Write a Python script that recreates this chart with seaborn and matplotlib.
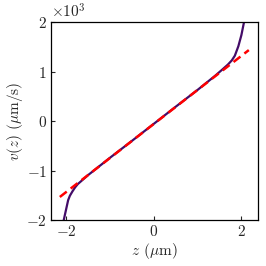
import numpy as np
import pandas as pd
import matplotlib
matplotlib.use("Agg")
import matplotlib.pyplot as plt
import seaborn as sns

# velocity profile v(z)
z_vals = [-2.06, -2.01, -1.96, -1.92, -1.86, -1.80, -1.74, -1.5, -1.0, -0.5, 0.0,
          0.5, 1.0, 1.4, 1.55, 1.69, 1.78, 1.85, 1.93, 2.0, 2.06]
v_vals = [-2000, -1800, -1600, -1510, -1420, -1340, -1275, -1090, -740, -400, -55,
          290, 630, 915, 1030, 1140, 1225, 1320, 1510, 1737, 2000]

# linear fit (dashed)
fit_z = [-2.15, 2.17]
fit_v = [-1535, 1434]

sns.set_style("ticks")
plt.rcParams['font.family'] = ['cmr10', 'DejaVu Serif']
plt.rcParams['mathtext.fontset'] = 'cm'
plt.rcParams['axes.formatter.use_mathtext'] = True
plt.rcParams['axes.unicode_minus'] = True

df = pd.DataFrame({'z': z_vals, 'v': v_vals})
fit = pd.DataFrame({'z': fit_z, 'v': fit_v})

fig = plt.figure(figsize=(2.66, 2.66), dpi=100)
ax = fig.add_axes([0.192, 0.173, 0.778, 0.744])
sns.lineplot(data=df, x='z', y='v', color='#440c68', lw=1.6, ax=ax, sort=False)
sns.lineplot(data=fit, x='z', y='v', color='red', lw=1.8, ax=ax, linestyle=(0, (3.5, 2)))

ax.set_xlim(-2.35, 2.38)
ax.set_ylim(-2000, 2000)
ax.set_xticks([-2, 0, 2])
ax.set_yticks([-2000, -1000, 0, 1000, 2000])
ax.ticklabel_format(axis='y', style='sci', scilimits=(0, 0))
ax.tick_params(direction='in', length=3, width=0.8, labelsize=11, pad=3)
ax.yaxis.get_offset_text().set_fontsize(11)
for s in ax.spines.values():
    s.set_color('black')
    s.set_linewidth(0.9)
ax.set_xlabel(r'$z$ ($\mu$m)', fontsize=11, labelpad=1)
ax.set_ylabel(r'$v(z)$ ($\mu$m/s)', fontsize=11, labelpad=1)

fig.savefig('out.png', dpi=100)
